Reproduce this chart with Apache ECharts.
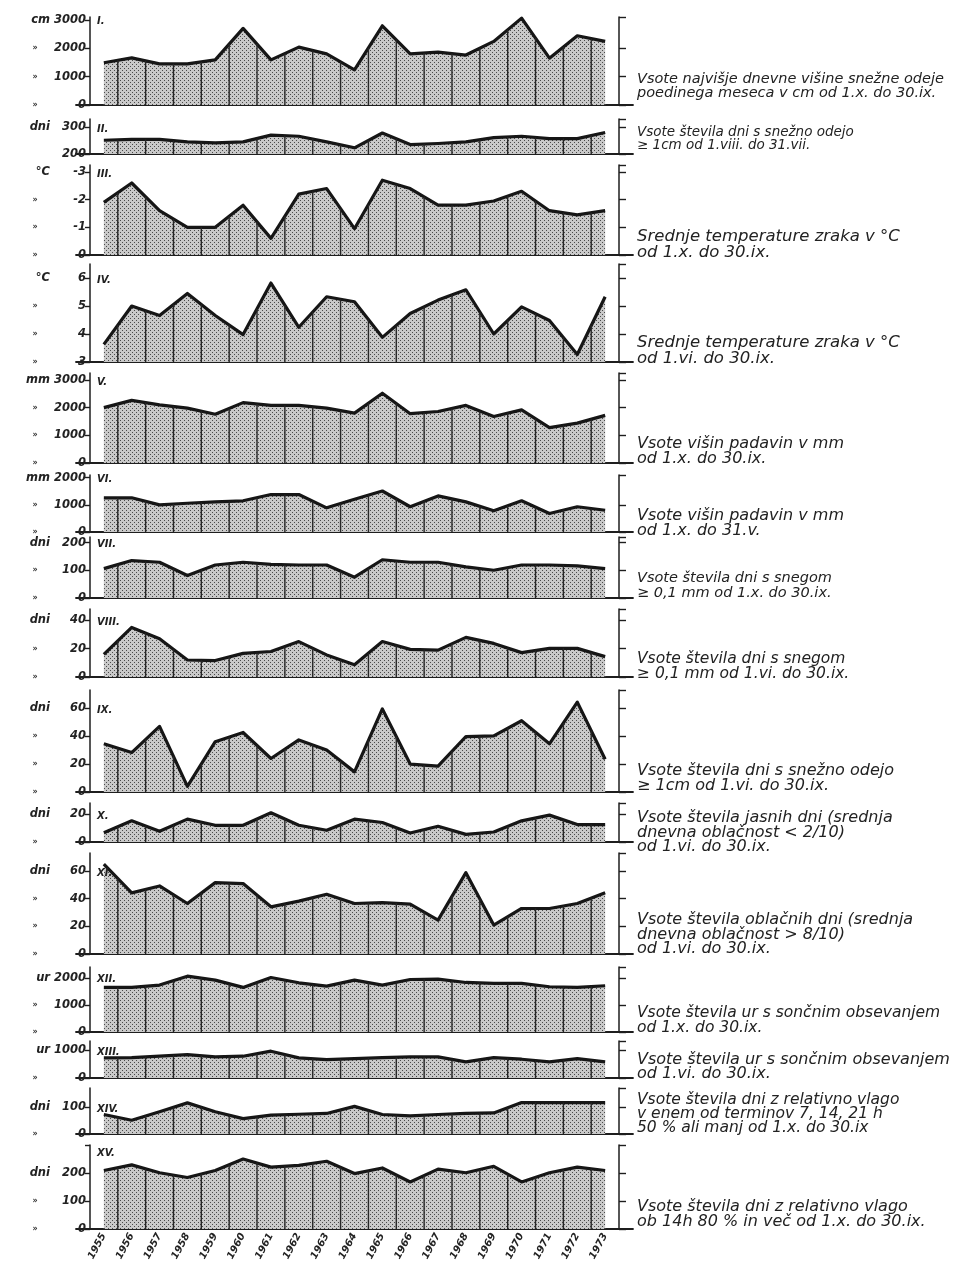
<!DOCTYPE html>
<html><head><meta charset="utf-8">
<script src="https://cdn.jsdelivr.net/npm/echarts@6/dist/echarts.min.js"></script>
<style>html,body{margin:0;padding:0;background:#fff}#c{width:957px;height:1264px}</style>
</head><body><div id="c"></div>
<script>
// ---------------- DATA ----------------
const years = [1955,1956,1957,1958,1959,1960,1961,1962,1963,1964,1965,1966,1967,1968,1969,1970,1971,1972,1973];

const snowDepthSum      = [1490,1660,1450,1450,1590,2700,1590,2040,1800,1240,2790,1800,1860,1760,2240,3060,1650,2440,2240];
const snowCoverDaysYear = [251,254,254,245,241,245,270,266,245,223,278,235,239,245,261,266,257,257,280];
const tempOctSep        = [-1.9,-2.6,-1.6,-1.0,-1.0,-1.8,-0.6,-2.2,-2.4,-0.95,-2.7,-2.4,-1.8,-1.8,-1.95,-2.3,-1.6,-1.45,-1.6];
const tempJunSep        = [3.63,5.0,4.66,5.45,4.66,3.98,5.82,4.24,5.33,5.15,3.88,4.73,5.21,5.58,4.0,4.97,4.48,3.27,5.33];
const precipOctSep      = [2000,2260,2100,1980,1760,2180,2080,2080,1980,1800,2520,1780,1860,2080,1680,1920,1280,1440,1720];
const precipOctMay      = [1260,1260,1000,1060,1110,1150,1380,1380,890,1210,1510,930,1330,1110,780,1150,680,930,800];
const snowDaysOctSep    = [106,135,129,81,119,129,121,119,119,75,138,129,129,112,100,119,119,116,106];
const snowDaysJunSep    = [16,35,27,12,11.6,16.7,18,25,15.6,8.6,25,19.5,19,28,23.7,17.2,20.2,20.2,14.4];
const snowCoverJunSep   = [34.5,28.2,47,4,36,42.6,24,37.3,30,14.4,59.5,20,18.5,39.7,40.2,51,34.5,64.3,23.4];
const clearDays         = [6.7,15.2,7.7,16.4,12,12,21,12,8.4,16.4,14,6.5,11.3,5.5,7.2,15.2,19.3,12.5,12.5];
const cloudyDays        = [65,44.2,49.2,36.5,51.6,50.9,34.1,38.2,43.2,36.5,37.2,36,24.5,58.8,20.9,32.9,32.9,36.5,44.2];
const sunHoursOctSep    = [1646,1646,1732,2060,1915,1646,2012,1817,1695,1915,1732,1939,1951,1829,1793,1793,1670,1646,1707];
const sunHoursJunSep    = [723,735,783,843,759,783,964,723,663,699,735,759,759,578,735,675,578,699,578];
const dryDays           = [72,51,82,115,82,57,70,73,76,102,72,67,72,76,78,116,116,116,116];
const humidDays         = [209,229,201,184,209,250,221,227,242,198,218,168,214,201,224,168,201,221,209];

const numerals = ['I.','II.','III.','IV.','V.','VI.','VII.','VIII.','IX.','X.','XI.','XII.','XIII.','XIV.','XV.'];
const units    = ['cm','dni','°C','°C','mm','mm','dni','dni','dni','dni','dni','ur','ur','dni','dni'];

const tickLabelsI    = [3000,2000,1000,0];
const tickLabelsII   = [300,200];
const tickLabelsIII  = [-3,-2,-1,0];
const tickLabelsIV   = [6,5,4,3];
const tickLabelsV    = [3000,2000,1000,0];
const tickLabelsVI   = [2000,1000,0];
const tickLabelsVII  = [200,100,0];
const tickLabelsVIII = [40,20,0];
const tickLabelsIX   = [60,40,20,0];
const tickLabelsX    = [20,0];
const tickLabelsXI   = [60,40,20,0];
const tickLabelsXII  = [2000,1000,0];
const tickLabelsXIII = [1000,0];
const tickLabelsXIV  = [100,0];
const tickLabelsXV   = [200,100,0];

const descriptions = [
  ['Vsote najvišje dnevne višine snežne odeje','poedinega meseca v cm od 1.x. do 30.ix.'],
  ['Vsote števila dni s snežno odejo','≥ 1cm od 1.viii. do 31.vii.'],
  ['Srednje temperature zraka v °C','od 1.x. do 30.ix.'],
  ['Srednje temperature zraka v °C','od 1.vi. do 30.ix.'],
  ['Vsote višin padavin v mm','od 1.x. do 30.ix.'],
  ['Vsote višin padavin v mm','od 1.x. do 31.v.'],
  ['Vsote števila dni s snegom','≥ 0,1 mm od 1.x. do 30.ix.'],
  ['Vsote števila dni s snegom','≥ 0,1 mm od 1.vi. do 30.ix.'],
  ['Vsote števila dni s snežno odejo','≥ 1cm od 1.vi. do 30.ix.'],
  ['Vsote števila jasnih dni (srednja','dnevna oblačnost < 2/10)','od 1.vi. do 30.ix.'],
  ['Vsote števila oblačnih dni (srednja','dnevna oblačnost > 8/10)','od 1.vi. do 30.ix.'],
  ['Vsote števila ur s sončnim obsevanjem','od 1.x. do 30.ix.'],
  ['Vsote števila ur s sončnim obsevanjem','od 1.vi. do 30.ix.'],
  ['Vsote števila dni z relativno vlago','v enem od terminov 7, 14, 21 h','50 % ali manj od 1.x. do 30.ix'],
  ['Vsote števila dni z relativno vlago','ob 14h 80 % in več od 1.x. do 30.ix.']
];

const seriesValues = [snowDepthSum,snowCoverDaysYear,tempOctSep,tempJunSep,precipOctSep,precipOctMay,
  snowDaysOctSep,snowDaysJunSep,snowCoverJunSep,clearDays,cloudyDays,sunHoursOctSep,sunHoursJunSep,dryDays,humidDays];
const tickLabels = [tickLabelsI,tickLabelsII,tickLabelsIII,tickLabelsIV,tickLabelsV,tickLabelsVI,tickLabelsVII,
  tickLabelsVIII,tickLabelsIX,tickLabelsX,tickLabelsXI,tickLabelsXII,tickLabelsXIII,tickLabelsXIV,tickLabelsXV];

// ---------------- LAYOUT (pixels / axis ranges) ----------------
const layout = [
  {top:17,   base:105,  min:0,    max:3100},
  {top:119,  base:154,  min:200,  max:330, noDitto:true},
  {top:165,  base:255,  min:-3.25,max:0,   inverse:true, origin:0},
  {top:264,  base:362,  min:3,    max:6.5},
  {top:373,  base:463,  min:0,    max:3250},
  {top:475,  base:532,  min:0,    max:2100},
  {top:537,  base:598,  min:0,    max:220},
  {top:609,  base:677,  min:0,    max:48},
  {top:690,  base:792,  min:0,    max:73},
  {top:803,  base:842,  min:0,    max:28},
  {top:853,  base:954,  min:0,    max:73},
  {top:967,  base:1032, min:0,    max:2400},
  {top:1041, base:1078, min:0,    max:1330},
  {top:1088, base:1134, min:0,    max:170},
  {top:1145, base:1229, min:0,    max:300, capLeft:true}
];
const textBlocks = [
  {top:72,   size:14.5, lh:14},
  {top:126,  size:13.5, lh:13},
  {top:229,  size:16.5, lh:16},
  {top:335,  size:16.5, lh:16},
  {top:436,  size:16,   lh:15},
  {top:508,  size:16,   lh:15},
  {top:571,  size:14.5, lh:14.5},
  {top:651,  size:15.5, lh:15},
  {top:763,  size:16,   lh:15},
  {top:811,  size:16,   lh:14.5},
  {top:913,  size:16,   lh:14.5},
  {top:1006, size:15.5, lh:14.5},
  {top:1053, size:16,   lh:14},
  {top:1093, size:15.5, lh:14},
  {top:1200, size:16,   lh:14.5}
];

const FONT = 'DejaVu Sans';
const GRID_LEFT = 76, GRID_RIGHT = 324;

function makePattern(){
  const c = document.createElement('canvas'); c.width = 4; c.height = 4;
  const g = c.getContext('2d');
  g.fillStyle = '#c9c9c9'; g.fillRect(0,0,4,4);
  g.fillStyle = '#4a4a4a'; g.fillRect(0,0,1,1); g.fillRect(2,2,1,1);
  return c;
}
const pattern = makePattern();

const chart = echarts.init(document.getElementById('c'), null, {renderer:'canvas'});
const grid = [], xAxis = [], yAxis = [], series = [], title = [];

layout.forEach((L, i) => {
  const vals = seriesValues[i];
  const labels = tickLabels[i];
  const h = L.base - L.top;
  grid.push({left: GRID_LEFT, right: GRID_RIGHT, top: L.top, height: h, containLabel:false});
  const last = i === layout.length - 1;
  xAxis.push({
    type:'value', gridIndex:i, min:1954, max:1974,
    axisLine:{show:true, onZero:false, lineStyle:{color:'#1e1e1e', width:1.8}},
    axisTick:{show:false}, splitLine:{show:false},
    axisLabel: last ? {show:true, customValues: years, rotate:62, margin:5,
      fontFamily:FONT, fontStyle:'italic', fontWeight:'bold', fontSize:10, color:'#222',
      formatter: v => String(v)} : {show:false}
  });
  const leftTicks = L.capLeft ? labels.concat([L.max]) : labels;
  yAxis.push({
    type:'value', gridIndex:i, position:'left', offset:-14, min:L.min, max:L.max, inverse:!!L.inverse,
    axisLine:{show:true, lineStyle:{color:'#1e1e1e', width:1.5}},
    axisTick:{show:true, customValues:leftTicks, length:5, lineStyle:{color:'#1e1e1e', width:1.4}},
    splitLine:{show:false},
    axisLabel:{show:true, customValues:labels, margin:4,
      formatter: v => {
        const txt = String(v);
        if (v === labels[0]) return '{u|' + units[i] + '}{n|' + txt + '}';
        if (L.noDitto) return '{u|}{n|' + txt + '}';
        return '{d|»}{n|' + txt + '}';
      },
      rich:{
        u:{width:30, align:'right', fontFamily:FONT, fontStyle:'italic', fontWeight:'bold', fontSize:11.5, color:'#222'},
        d:{width:30, align:'center', fontFamily:FONT, fontWeight:'bold', fontSize:8, color:'#333'},
        n:{width:36, align:'right', fontFamily:FONT, fontStyle:'italic', fontWeight:'bold', fontSize:11.5, color:'#222'}
      }
    }
  });
  const capVal = L.inverse ? L.min : L.max;
  const span = Math.abs(L.max - L.min);
  const rightTicks = labels.filter(v => Math.abs(v - capVal) > span * 0.06).concat([capVal]);
  yAxis.push({
    type:'value', gridIndex:i, position:'right', offset:-14, min:L.min, max:L.max, inverse:!!L.inverse,
    axisLine:{show:true, lineStyle:{color:'#1e1e1e', width:1.5}},
    axisTick:{show:true, customValues: rightTicks, length:7, lineStyle:{color:'#1e1e1e', width:1.4}},
    splitLine:{show:false}, axisLabel:{show:false}
  });
  const origin = L.origin !== undefined ? L.origin : L.min;
  series.push({
    type:'line', xAxisIndex:i, yAxisIndex:2*i, symbol:'none', z:3,
    data: years.map((y,k) => [y, vals[k]]),
    lineStyle:{color:'#161616', width:3.2, join:'round'},
    areaStyle:{color:{image:pattern, repeat:'repeat'}, opacity:1, origin: origin}
  });
  const pairs = [];
  for (let k = 0; k < years.length - 1; k++) pairs.push([years[k], years[k+1], vals[k], vals[k+1]]);
  series.push({
    type:'custom', xAxisIndex:i, yAxisIndex:2*i, z:5, silent:true,
    encode:{x:[0,1], y:[2,3]},
    data: pairs,
    renderItem: (params, api) => {
      const x = (api.value(0) + api.value(1)) / 2;
      const v = (api.value(2) + api.value(3)) / 2;
      const p1 = api.coord([x, v]);
      const p0 = api.coord([x, origin]);
      return {type:'line', shape:{x1:p0[0], y1:p0[1], x2:p1[0], y2:p1[1]},
        style:{stroke:'#262626', lineWidth:1.4}};
    }
  });
  const vTop = labels[0];
  const frac = (vTop - L.min) / (L.max - L.min);
  const yTop = L.inverse ? L.top + frac * h : L.base - frac * h;
  const numTop = L.capLeft ? L.top + 3 : yTop - 3;
  title.push({text: numerals[i], left: 97, top: numTop, padding:0,
    textStyle:{fontFamily:FONT, fontStyle:'italic', fontWeight:'bold', fontSize:10, color:'#222'}});
  const T = textBlocks[i];
  title.push({text: descriptions[i].join('\n'), left: 637, top: T.top, padding:0,
    textStyle:{fontFamily:FONT, fontStyle:'italic', fontWeight:'normal', fontSize:T.size, lineHeight:T.lh, color:'#222'}});
});

chart.setOption({
  backgroundColor:'#ffffff',
  animation:false,
  title, grid, xAxis, yAxis, series
});
</script>
</body></html>
